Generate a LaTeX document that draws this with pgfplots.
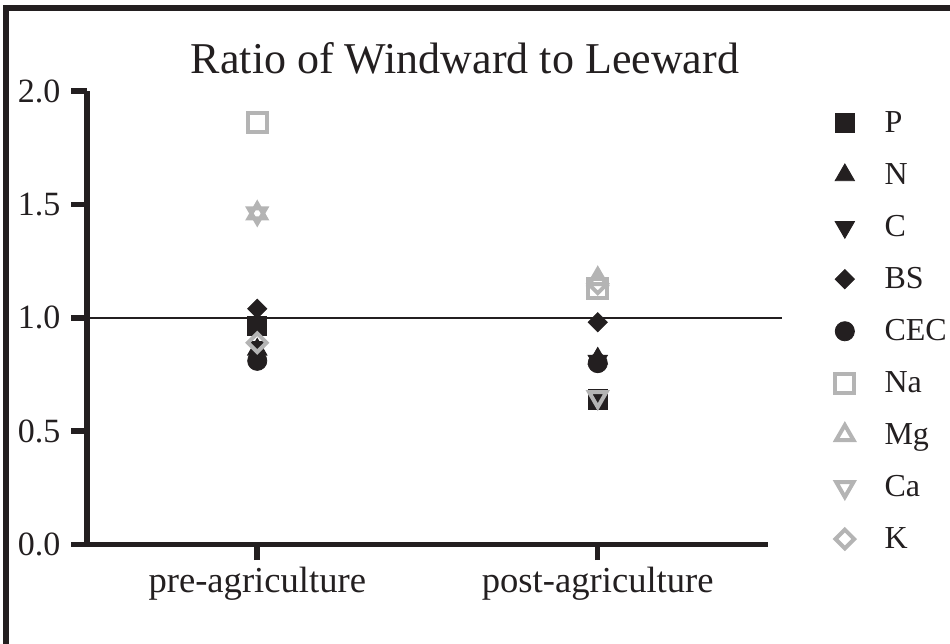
\documentclass[border=0pt]{standalone}
\usepackage{pgfplots}
\pgfplotsset{compat=1.18}
\usepackage{fontspec}
\setmainfont{Liberation Serif}

\definecolor{ink}{RGB}{35,31,32}
\definecolor{lgray}{RGB}{180,180,180}

\begin{document}
\begin{tikzpicture}
% page size and outer frame
\useasboundingbox (0,0) rectangle (475pt,-322pt);
\draw[ink, line width=3pt] (3pt,-340pt) -- (3pt,-4pt) -- (490pt,-4pt);

\node[anchor=base, font=\fontsize{22}{22}\selectfont, text=ink] at (232.5pt,-36.5pt) {Ratio of Windward to Leeward};

\begin{axis}[
  at={(43.5pt,-272.25pt)}, anchor=south west,
  scale only axis, width=340.5pt, height=226.75pt,
  xmin=0.5, xmax=2.5, ymin=0, ymax=2,
  clip=false,
  axis lines=left,
  axis line style={ink, line width=2.75pt, -},
  xtick={1,2}, xticklabels={pre-agriculture,post-agriculture},
  ytick={0,0.5,1,1.5,2},
  /pgf/number format/assume math mode=true,
  tick align=outside, major tick length=7.75pt,
  tick style={ink, line width=2.75pt},
  xticklabel style={font=\fontsize{18.3}{18.3}\selectfont, text=ink},
  yticklabel style={font=\fontsize{17}{17}\selectfont, text=ink, xshift=-2pt,
    /pgf/number format/fixed, /pgf/number format/fixed zerofill,
    /pgf/number format/precision=1},
  legend cell align=left,
  legend image code/.code={\draw[#1] plot coordinates {(0pt,0pt)};},
  legend style={at={(1.098,0.965)}, anchor=north west, draw=none, fill=none,
    inner sep=0pt, row sep=9.95pt,
    font=\fontsize{16}{16}\selectfont, text=ink,
    /tikz/every odd column/.append style={column sep=13pt}},
]
% reference line at ratio 1
\addplot[ink, line width=0.75pt, forget plot] coordinates {(0.5,1) (2.54,1)};

% P
\addplot[only marks, mark=square*, mark size=4.8pt, draw=ink, fill=ink, mark options={line width=0.4pt}]
  coordinates {(1,0.965) (2,0.64)};
% N
\addplot[only marks, mark=triangle*, mark size=5.6pt, draw=ink, fill=ink, mark options={line width=0.4pt}]
  coordinates {(1,0.86) (2,0.82)};
% C
\addplot[only marks, mark=triangle*, mark size=5.6pt, draw=ink, fill=ink, mark options={line width=0.4pt, rotate=180}]
  coordinates {(1,0.87) (2,0.81)};
% BS
\addplot[only marks, mark=square*, mark size=3.4pt, draw=ink, fill=ink, mark options={line width=0.4pt, rotate=45}]
  coordinates {(1,1.04) (2,0.98)};
% CEC
\addplot[only marks, mark=*, mark size=4.8pt, draw=ink, fill=ink, mark options={line width=0.4pt}]
  coordinates {(1,0.81) (2,0.80)};
% Na
\addplot[only marks, mark=square, mark size=4.75pt, draw=lgray, mark options={line width=2pt}]
  coordinates {(1,1.86) (2,1.13)};
% Mg
\addplot[only marks, mark=triangle, mark size=5pt, draw=lgray, mark options={line width=2pt}]
  coordinates {(1,1.46) (2,1.17)};
% Ca
\addplot[only marks, mark=triangle, mark size=5pt, draw=lgray, mark options={line width=2pt, rotate=180}]
  coordinates {(1,1.46) (2,0.65)};
% K
\addplot[only marks, mark=square, mark size=3.3pt, draw=lgray, mark options={line width=2pt, rotate=45}]
  coordinates {(1,0.89) (2,1.15)};

\legend{P,N,C,BS,CEC,Na,Mg,Ca,K}
\end{axis}
\end{tikzpicture}
\end{document}
